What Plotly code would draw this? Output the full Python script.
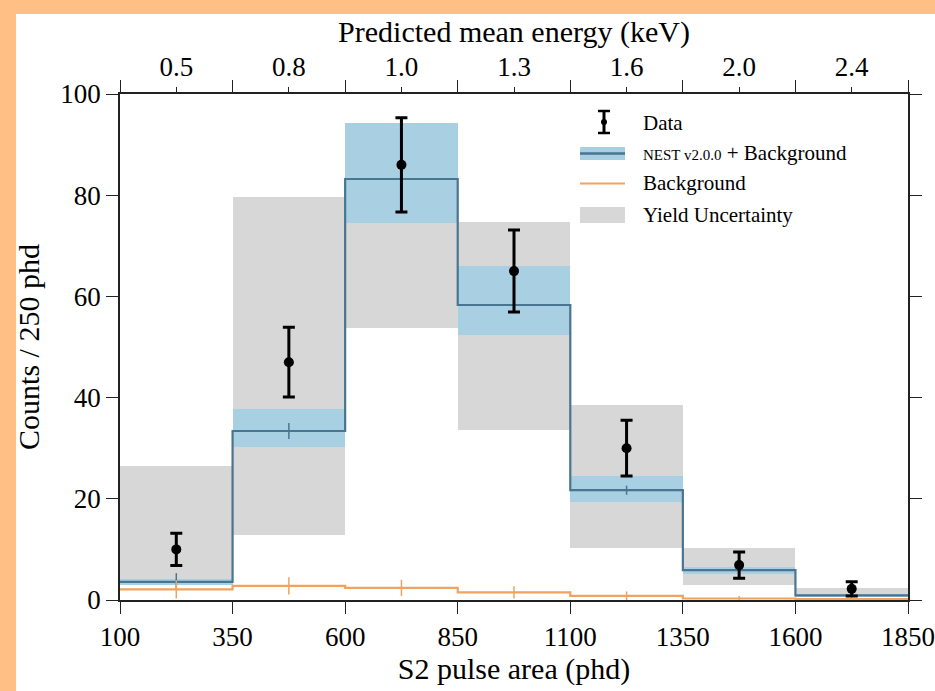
import plotly.graph_objects as go

# ---- data ----
edges = [100, 350, 600, 850, 1100, 1350, 1600, 1850]
centers = [225, 475, 725, 975, 1225, 1475, 1725]
energy_labels = ["0.5", "0.8", "1.0", "1.3", "1.6", "2.0", "2.4"]

data_counts = [10, 47, 86, 65, 30, 6.9, 2.2]
data_err = [3.2, 6.9, 9.3, 8.1, 5.5, 2.6, 1.4]

model = [3.6, 33.4, 83.2, 58.3, 21.7, 5.9, 0.9]
model_err = [1.7, 1.6, 1.9, 1.6, 0.9, 0.5, 0.3]
model_lo = [3.0, 30.2, 74.5, 52.3, 19.4, 5.2, 0.6]
model_hi = [4.2, 37.7, 94.2, 66.0, 24.5, 6.6, 1.2]

yield_lo = [3.0, 12.9, 53.8, 33.6, 10.3, 3.0, 0.6]
yield_hi = [26.5, 79.6, 93.5, 74.7, 38.5, 10.3, 2.4]

bkg = [2.1, 2.8, 2.4, 1.5, 0.8, 0.3, 0.2]
bkg_err = [1.8, 1.7, 1.6, 1.2, 0.9, 0.5, 0.4]

# ---- styles ----
FONT = "Liberation Serif"
GREY = "#d7d7d7"
LBLUE = "#a9cfe2"
DBLUE = "#4a7590"
ORANGE = "#efa35c"
PEACH = "#ffbf85"

W, H = 935, 691
L, R, T, B = 120, 27, 94, 91
PW, PH = W - L - R, H - T - B


def px(x):
    return (x - L) / PW


def py(y):
    return (H - B - y) / PH


fig = go.Figure()

widths = [edges[i + 1] - edges[i] for i in range(len(centers))]

# yield uncertainty (grey)
fig.add_trace(go.Bar(x=centers, y=[h - l for h, l in zip(yield_hi, yield_lo)], base=yield_lo,
                     width=widths, marker=dict(color=GREY, line=dict(width=0)),
                     showlegend=False, hoverinfo="skip"))
# model band (light blue)
fig.add_trace(go.Bar(x=centers, y=[h - l for h, l in zip(model_hi, model_lo)], base=model_lo,
                     width=widths, marker=dict(color=LBLUE, line=dict(width=0)),
                     showlegend=False, hoverinfo="skip"))

# model step line
fig.add_trace(go.Scatter(x=edges, y=model + [model[-1]], mode="lines", line_shape="hv",
                         line=dict(color=DBLUE, width=2.2), showlegend=False, hoverinfo="skip"))
fig.add_trace(go.Scatter(x=centers, y=model, mode="markers", marker=dict(size=0.1, color=DBLUE),
                         error_y=dict(type="data", array=model_err, color=DBLUE, thickness=1.5, width=0),
                         showlegend=False, hoverinfo="skip"))

# background step line
fig.add_trace(go.Scatter(x=edges, y=bkg + [bkg[-1]], mode="lines", line_shape="hv",
                         line=dict(color=ORANGE, width=2.2), showlegend=False, hoverinfo="skip"))
fig.add_trace(go.Scatter(x=centers, y=bkg, mode="markers", marker=dict(size=0.1, color=ORANGE),
                         error_y=dict(type="data", array=bkg_err, color=ORANGE, thickness=1.5, width=0),
                         showlegend=False, hoverinfo="skip"))

# data
fig.add_trace(go.Scatter(x=centers, y=data_counts, mode="markers",
                         marker=dict(size=10, color="black"),
                         error_y=dict(type="data", array=data_err, color="black", thickness=3, width=6),
                         showlegend=False))

# dummy trace on top axis
fig.add_trace(go.Scatter(x=[centers[0]], y=[0], xaxis="x2", mode="markers",
                         marker=dict(size=0.1, opacity=0), showlegend=False, hoverinfo="skip"))

axis_common = dict(showgrid=False, zeroline=False, showline=True, linecolor="#222",
                   linewidth=1.5, ticks="outside", tickcolor="#222", tickwidth=1.3,
                   automargin=False,
                   tickfont=dict(family=FONT, size=27, color="black"))

fig.update_layout(
    width=W, height=H,
    margin=dict(l=L, r=R, t=T, b=B, pad=0, autoexpand=False),
    paper_bgcolor="white", plot_bgcolor="white",
    barmode="overlay", bargap=0,
    font=dict(family=FONT, color="black"),
    xaxis=dict(range=[edges[0], edges[-1]], tickmode="array", tickvals=edges,
               ticktext=[str(e) for e in edges], ticklen=12, mirror="ticks",
               title=dict(text="S2 pulse area (phd)", font=dict(family=FONT, size=30), standoff=6),
               **axis_common),
    xaxis2=dict(range=[edges[0], edges[-1]], overlaying="x", side="top", tickmode="array",
                tickvals=centers, ticktext=energy_labels, ticks="outside", ticklen=6,
                tickcolor="#222", tickwidth=1.3, showline=False, showgrid=False, zeroline=False,
                automargin=False,
                tickfont=dict(family=FONT, size=27, color="black"),
                title=dict(text="Predicted mean energy (keV)", font=dict(family=FONT, size=30), standoff=0)),
    yaxis=dict(range=[0, 100], tickmode="array", tickvals=[0, 20, 40, 60, 80, 100],
               ticklen=12, mirror="ticks",
               title=dict(text="Counts / 250 phd", font=dict(family=FONT, size=30), standoff=12),
               **axis_common),
)

shapes = []
# orange frame (top and left)
shapes.append(dict(type="rect", xref="paper", yref="paper", x0=px(0), x1=px(16), y0=py(H), y1=py(0),
                   fillcolor=PEACH, line=dict(width=0), layer="above"))
shapes.append(dict(type="rect", xref="paper", yref="paper", x0=px(0), x1=px(W), y0=py(14), y1=py(0),
                   fillcolor=PEACH, line=dict(width=0), layer="above"))

# manual legend symbols
lx0, lx1 = 580, 625
# Data symbol
shapes.append(dict(type="line", xref="paper", yref="paper", x0=px(604), x1=px(604), y0=py(111), y1=py(133),
                   line=dict(color="black", width=3)))
for yy in (111, 133):
    shapes.append(dict(type="line", xref="paper", yref="paper", x0=px(598), x1=px(610), y0=py(yy), y1=py(yy),
                       line=dict(color="black", width=2.5)))
shapes.append(dict(type="circle", xref="paper", yref="paper", x0=px(601), x1=px(607), y0=py(119), y1=py(125),
                   fillcolor="black", line=dict(width=0)))
# NEST band + line
shapes.append(dict(type="rect", xref="paper", yref="paper", x0=px(lx0), x1=px(lx1), y0=py(160), y1=py(147),
                   fillcolor=LBLUE, line=dict(width=0)))
shapes.append(dict(type="line", xref="paper", yref="paper", x0=px(lx0), x1=px(lx1), y0=py(153.5), y1=py(153.5),
                   line=dict(color=DBLUE, width=2.5)))
# Background line
shapes.append(dict(type="line", xref="paper", yref="paper", x0=px(lx0), x1=px(lx1), y0=py(183.5), y1=py(183.5),
                   line=dict(color=ORANGE, width=2)))
# Yield box
shapes.append(dict(type="rect", xref="paper", yref="paper", x0=px(lx0), x1=px(lx1), y0=py(223), y1=py(207),
                   fillcolor=GREY, line=dict(width=0)))

annotations = []
leg_items = [
    ("Data", 123),
    ("<span style='font-size:15px'>NEST v2.0.0</span> + Background", 153),
    ("Background", 183),
    ("Yield Uncertainty", 215),
]
for txt, yy in leg_items:
    annotations.append(dict(text=txt, xref="paper", yref="paper", x=px(641), y=py(yy),
                            xanchor="left", yanchor="middle", showarrow=False,
                            font=dict(family=FONT, size=21, color="black")))

fig.update_layout(shapes=shapes, annotations=annotations)

fig.write_html("out.html")
